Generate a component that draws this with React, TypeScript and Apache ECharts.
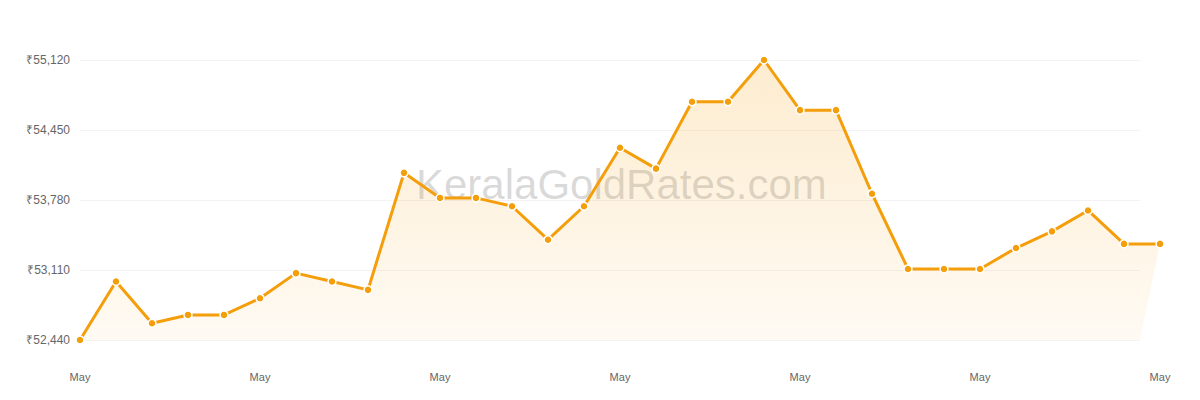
import { useEffect, useRef } from 'react'
import * as echarts from 'echarts'

// Daily 22K gold rate (8 g / pavan), May
const days = Array.from({ length: 31 }, (_, i) => `May ${i + 1}`)
const rates = [
  52440, 53000, 52600, 52680, 52680, 52840, 53080, 53000, 52920, 54040,
  53800, 53800, 53720, 53400, 53720, 54280, 54080, 54720, 54720, 55120,
  54640, 54640, 53840, 53120, 53120, 53120, 53320, 53480, 53680, 53360,
  53360,
]
const yTicks = [52440, 53110, 53780, 54450, 55120]
// the fill polygon closes a little before the last point in the original
const fillCloseIndex = 29.44

const font = 'Liberation Sans, Arial, sans-serif'

export default function App() {
  const chartRef = useRef<HTMLDivElement>(null)

  useEffect(() => {
    if (!chartRef.current) return
    const chart = echarts.init(chartRef.current, null, { renderer: 'svg' })

    const linePoints = rates.map((v, i) => [i, v])
    const areaPoints = [...linePoints, [fillCloseIndex, yTicks[0]]]
    const yMin = yTicks[0]
    const yMax = yTicks[yTicks.length - 1]
    const yStep = yTicks[1] - yTicks[0]

    const option: echarts.EChartsOption = {
      animation: false,
      backgroundColor: '#ffffff',
      grid: [
        { left: 80, right: 40, top: 60, bottom: 60 },
        // grid lines stop a bit short of the last point
        { left: 80, right: 60, top: 60, bottom: 60 },
      ],
      graphic: [
        {
          type: 'text',
          left: 416,
          top: 163,
          z: 1,
          style: {
            text: 'KeralaGoldRates.com',
            fontSize: 42,
            fontFamily: font,
            fill: 'rgba(120, 120, 120, 0.28)',
          },
        },
      ],
      xAxis: [
        {
          type: 'value',
          gridIndex: 0,
          min: 0,
          max: days.length - 1,
          interval: 5,
          axisLine: { show: false },
          axisTick: { show: false },
          splitLine: { show: false },
          axisLabel: {
            margin: 31,
            fontSize: 11,
            color: '#666',
            fontFamily: font,
            formatter: (v: number) => (days[v] || '').split(' ')[0],
          },
        },
        { type: 'value', gridIndex: 1, show: false },
      ],
      yAxis: [
        {
          type: 'value',
          gridIndex: 0,
          min: yMin,
          max: yMax,
          interval: yStep,
          axisLine: { show: false },
          axisTick: { show: false },
          splitLine: { show: false },
          axisLabel: {
            margin: 10,
            fontSize: 12,
            color: '#666',
            fontFamily: font,
            formatter: (v: number) => '₹' + v.toLocaleString('en-US'),
          },
        },
        {
          type: 'value',
          gridIndex: 1,
          min: yMin,
          max: yMax,
          interval: yStep,
          axisLine: { show: false },
          axisTick: { show: false },
          axisLabel: { show: false },
          splitLine: { lineStyle: { color: '#f3f3f3', width: 1 } },
        },
      ],
      series: [
        {
          type: 'line',
          data: areaPoints,
          symbol: 'none',
          silent: true,
          z: 2,
          lineStyle: { opacity: 0 },
          areaStyle: {
            color: new echarts.graphic.LinearGradient(0, 0, 0, 1, [
              { offset: 0, color: 'rgba(245, 158, 11, 0.28)' },
              { offset: 1, color: 'rgba(245, 158, 11, 0.07)' },
            ]),
          },
        },
        {
          type: 'line',
          data: linePoints,
          z: 3,
          symbol: 'circle',
          symbolSize: 8,
          lineStyle: { color: '#F59E0B', width: 3 },
          itemStyle: { color: '#F59E0B', borderColor: '#ffffff', borderWidth: 1.5 },
        },
      ],
    }

    chart.setOption(option)
    return () => chart.dispose()
  }, [])

  return (
    <div
      ref={chartRef}
      style={{ position: 'absolute', left: 0, top: 0, width: 1200, height: 400 }}
    />
  )
}
